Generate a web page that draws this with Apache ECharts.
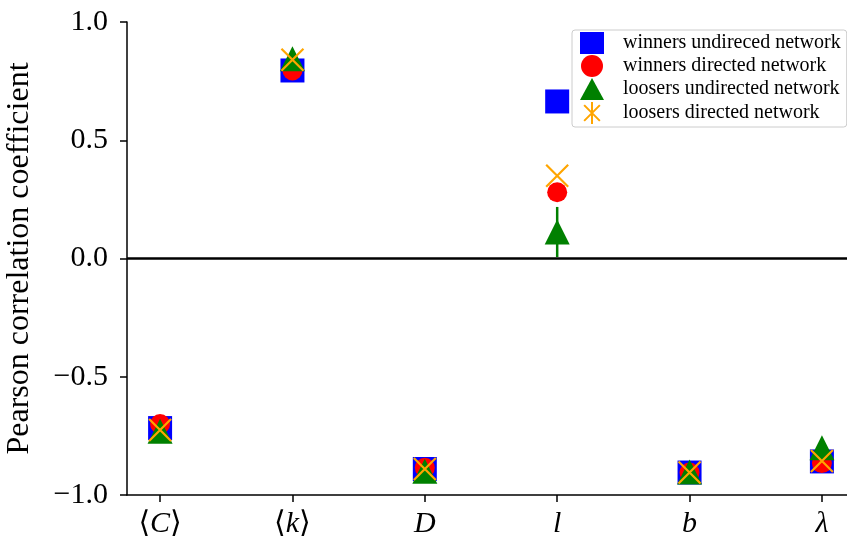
<!DOCTYPE html>
<html>
<head>
<meta charset="utf-8">
<script src="https://cdn.jsdelivr.net/npm/echarts@6/dist/echarts.min.js"></script>
<style>html,body{margin:0;padding:0;background:#fff}#c{width:847px;height:540px}</style>
</head>
<body>
<div id="c"></div>
<script>
// ---- data ----
const categories = ['⟨C⟩', '⟨k⟩', 'D', 'l', 'b', 'λ'];
const winnersUndirected = [-0.717, 0.795, -0.89, 0.664, -0.905, -0.858];
const winnersDirected   = [-0.70, 0.795, -0.885, 0.28, -0.905, -0.865];
const loosersUndirected = [-0.73, 0.845, -0.90, 0.112, -0.903, -0.80];
const loosersUndirectedErr = [0, 0, 0, 0.106, 0, 0];
const loosersDirected   = [-0.725, 0.84, -0.89, 0.35, -0.905, -0.856];
const yTicks = [-1.0, -0.5, 0.0, 0.5, 1.0];
const seriesNames = ['winners undireced network', 'winners directed network', 'loosers undirected network', 'loosers directed network'];

const SERIF = '"Liberation Serif", "DejaVu Serif", serif';
const toPts = arr => arr.map((v, i) => [i, v]);
const xIdx = categories.map((_, i) => i);

function catLabel(v) {
  const s = categories[Math.round(v)];
  if (s === undefined) return '';
  if (s.startsWith('⟨')) return '{r|⟨}{i|' + s.slice(1, -1) + '}{r|⟩}';
  return '{i|' + s + '}';
}

const chart = echarts.init(document.getElementById('c'), null, {renderer: 'canvas'});
chart.setOption({
  animation: false,
  backgroundColor: '#ffffff',
  grid: {left: 127, width: 728, top: 22, bottom: 45, containLabel: false, outerBoundsMode: 'none'},
  xAxis: {
    type: 'value', min: -0.25, max: 5.25,
    splitLine: {show: false},
    axisLine: {show: true, onZero: false, lineStyle: {color: '#000', width: 1.5}},
    axisTick: {show: true, customValues: xIdx, length: 7, lineStyle: {color: '#000', width: 1.5}},
    axisLabel: {
      customValues: xIdx, margin: 14,
      formatter: catLabel,
      rich: {
        r: {fontFamily: SERIF, fontSize: 30, color: '#000'},
        i: {fontFamily: SERIF, fontSize: 30, fontStyle: 'italic', color: '#000'}
      }
    }
  },
  yAxis: {
    type: 'value', min: -1, max: 1, interval: 0.5,
    name: 'Pearson correlation coefficient', nameLocation: 'middle', nameGap: 91,
    nameTextStyle: {fontFamily: SERIF, fontSize: 32, color: '#000'},
    splitLine: {show: false},
    axisLine: {show: true, onZero: false, lineStyle: {color: '#000', width: 1.5}},
    axisTick: {show: true, length: 7, lineStyle: {color: '#000', width: 1.5}},
    axisLabel: {
      margin: 19, fontFamily: SERIF, fontSize: 30, color: '#000',
      customValues: yTicks,
      formatter: v => (v < 0 ? '\u2212' : '') + Math.abs(v).toFixed(1)
    }
  },
  legend: {
    orient: 'vertical', left: 572, top: 30,
    itemWidth: 24, itemHeight: 22, itemGap: 1,
    padding: [2, 6, 2, 8],
    borderColor: '#cccccc', borderWidth: 1, borderRadius: 3,
    backgroundColor: 'rgba(255,255,255,0.8)',
    textStyle: {fontFamily: SERIF, fontSize: 20, color: '#000', padding: [0, 0, 0, 14]},
    data: [
      {name: seriesNames[0], icon: 'rect'},
      {name: seriesNames[1], icon: 'circle'},
      {name: seriesNames[2], icon: 'triangle'},
      {name: seriesNames[3], icon: 'path://M0,2L10,12M10,2L0,12M5,0L5,14'}
    ]
  },
  series: [
    {
      name: seriesNames[0], type: 'scatter', data: toPts(winnersUndirected),
      symbol: 'rect', symbolSize: 24, itemStyle: {color: '#0000ff', opacity: 1},
      markLine: {
        silent: true, symbol: 'none', label: {show: false},
        lineStyle: {color: '#000', width: 2.5, type: 'solid'},
        data: [{yAxis: 0}]
      }
    },
    {
      name: seriesNames[1], type: 'scatter', data: toPts(winnersDirected),
      symbol: 'circle', symbolSize: 20, itemStyle: {color: '#ff0000', opacity: 1}
    },
    {
      type: 'custom', silent: true,
      data: loosersUndirected.map((v, i) => [i, v, loosersUndirectedErr[i]]),
      renderItem: function (params, api) {
        const x = api.value(0), y = api.value(1), e = api.value(2);
        if (!e) return null;
        const p1 = api.coord([x, y - e]), p2 = api.coord([x, y + e]);
        return {type: 'line', shape: {x1: p1[0], y1: p1[1], x2: p2[0], y2: p2[1]},
                style: {stroke: '#008000', lineWidth: 2.5}};
      }
    },
    {
      name: seriesNames[2], type: 'scatter', data: toPts(loosersUndirected),
      symbol: 'triangle', symbolSize: 25, itemStyle: {color: '#008000', opacity: 1}
    },
    {
      name: seriesNames[3], type: 'scatter', data: toPts(loosersDirected),
      symbol: 'path://M0,0L10,10M10,0L0,10', symbolSize: 22,
      itemStyle: {color: 'rgba(0,0,0,0)', borderColor: '#ffa500', borderWidth: 2.2, opacity: 1}
    }
  ]
});
</script>
</body>
</html>
